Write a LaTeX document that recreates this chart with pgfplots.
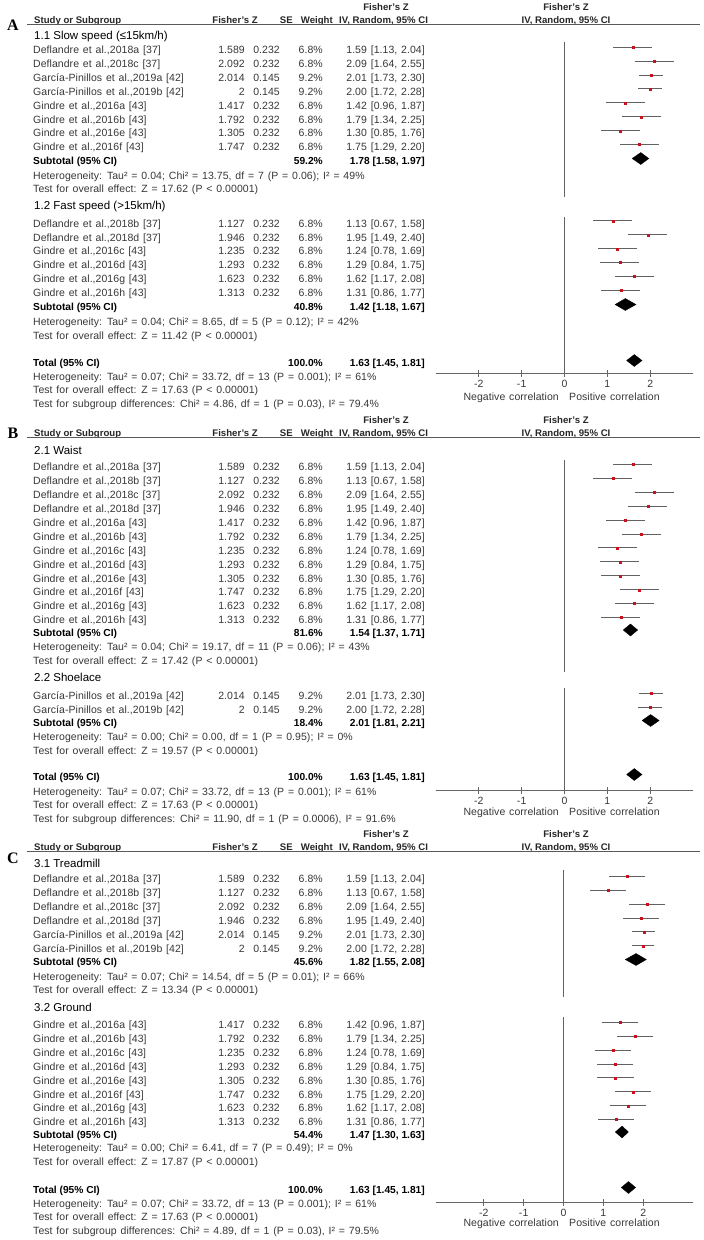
\documentclass[border=0pt]{standalone}
\usepackage{pgfplots}
\pgfplotsset{compat=1.18}
\usepackage{pgfplotstable}
\usepackage{fontspec}
\setmainfont{Liberation Sans}
\newfontfamily\rmw{Liberation Sans}[WordSpace=1.3, LetterSpace=0.5]
\newfontfamily\serifbf{Liberation Serif}

\definecolor{txt}{gray}{0.22}
\definecolor{cil}{gray}{0.38}
\definecolor{zl}{gray}{0.38}
\definecolor{dotred}{RGB}{200,16,30}

\tikzset{
 T/.style={font=\rmw\fontsize{10.5}{12}\selectfont, text=txt, inner sep=0pt, yshift=-3.8pt},
 B/.style={font=\fontsize{10.2}{12}\selectfont\bfseries, text=black, inner sep=0pt, yshift=-3.7pt},
 H/.style={font=\fontsize{9.6}{11}\selectfont\bfseries, text=black!85, inner sep=0pt, yshift=-3.5pt},
 G/.style={font=\fontsize{11.5}{13}\selectfont, text=black, inner sep=0pt, yshift=-4.1pt},
}

\newcommand\srow[6]{%
 \node[T,anchor=base west] at (33pt,-#1pt) {#2};
 \node[T,anchor=base east] at (245pt,-#1pt) {#3};
 \node[T,anchor=base east] at (280pt,-#1pt) {#4};
 \node[T,anchor=base east] at (323pt,-#1pt) {#5\%};
 \node[T,anchor=base east] at (425pt,-#1pt) {#6};}
\newcommand\subrow[4]{%
 \node[B,anchor=base west] at (33pt,-#1pt) {#2};
 \node[B,anchor=base east] at (323pt,-#1pt) {#3\%};
 \node[B,anchor=base east] at (425pt,-#1pt) {#4};}
\newcommand\note[2]{\node[T,anchor=base west] at (33pt,-#1pt) {#2};}
\newcommand\grp[2]{\node[G,anchor=base west] at (34pt,-#1pt) {#2};}
\newcommand\panelheader[3]{%
 \node[font=\fontsize{16}{16}\selectfont\serifbf\bfseries, inner sep=0pt] at (13pt,-#3pt) {#2};
 \node[H,anchor=base west] at (34pt,-#1pt) {Study or Subgroup};
 \node[H,anchor=base east] at (258pt,-#1pt) {Fisher's Z};
 \node[H,anchor=base east] at (293pt,-#1pt) {SE};
 \node[H,anchor=base east] at (333pt,-#1pt) {Weight};
 \node[H,anchor=base west] at (339pt,-#1pt) {IV, Random, 95\% CI};
 \node[H,anchor=base] at (386pt,{-(#1-13)*1pt}) {Fisher's Z};
 \node[H,anchor=base] at (566pt,{-(#1-13)*1pt}) {Fisher's Z};
 \node[H,anchor=base] at (566pt,-#1pt) {IV, Random, 95\% CI};
 \draw[black!65, line width=0.9pt] (27pt,{-(#1+4.5)*1pt}) -- (700pt,{-(#1+4.5)*1pt});}
\newcommand\corr[1]{%
 \node[T,anchor=base east] at (559pt,-#1pt) {Negative correlation};
 \node[T,anchor=base west] at (569pt,-#1pt) {Positive correlation};}

\pgfplotsset{forest/.style={
  scale only axis, width=257pt, clip=false, anchor=south west,
  axis x line=bottom, axis y line=none,
  axis line style={-, black!60, line width=0.9pt},
  xtick={-2,-1,0,1,2}, xticklabels={-2,-1,0,1,2},
  major tick length=7pt, tick align=center,
  tick style={black!60, line width=0.9pt},
  xticklabel style={font=\rmw\fontsize{10.5}{12}\selectfont, text=txt},
 },
 ci/.style={only marks, mark=square*, mark size=1.0pt, color=dotred,
  mark options={line width=0.1pt},
  error bars/.cd, x dir=both, x explicit, error mark=none,
  error bar style={cil, line width=1pt}},
 dia/.style={fill=black, draw=black, line width=0.3pt, mark=none},
 zero/.style={zl, line width=0.9pt, mark=none}
}

% y (plot position, px from top, negative), estimate, lower, upper
\pgfplotstableread{
y est lo hi
-47.2 1.589 1.13 2.04
-61.1 2.092 1.64 2.55
-75.0 2.014 1.73 2.30
-88.9 2.000 1.72 2.28
-102.8 1.417 0.96 1.87
-116.7 1.792 1.34 2.25
-130.6 1.305 0.85 1.76
-144.5 1.747 1.29 2.20
-220.8 1.127 0.67 1.58
-234.7 1.946 1.49 2.40
-248.6 1.235 0.78 1.69
-262.5 1.293 0.84 1.75
-276.4 1.623 1.17 2.08
-290.3 1.313 0.86 1.77
}\studiesA

\pgfplotstableread{
y est lo hi
-464.5 1.589 1.13 2.04
-478.4 1.127 0.67 1.58
-492.3 2.092 1.64 2.55
-506.2 1.946 1.49 2.40
-520.1 1.417 0.96 1.87
-534.0 1.792 1.34 2.25
-547.9 1.235 0.78 1.69
-561.8 1.293 0.84 1.75
-575.7 1.305 0.85 1.76
-589.6 1.747 1.29 2.20
-603.5 1.623 1.17 2.08
-617.4 1.313 0.86 1.77
-693.5 2.014 1.73 2.30
-707.0 2.000 1.72 2.28
}\studiesB

\pgfplotstableread{
y est lo hi
-876.5 1.589 1.13 2.04
-890.4 1.127 0.67 1.58
-904.2 2.092 1.64 2.55
-918.1 1.946 1.49 2.40
-931.9 2.014 1.73 2.30
-945.8 2.000 1.72 2.28
-1022.5 1.417 0.96 1.87
-1036.4 1.792 1.34 2.25
-1050.2 1.235 0.78 1.69
-1064.1 1.293 0.84 1.75
-1077.9 1.305 0.85 1.76
-1091.8 1.747 1.29 2.20
-1105.6 1.623 1.17 2.08
-1119.5 1.313 0.86 1.77
}\studiesC

\begin{document}
\begin{tikzpicture}
\useasboundingbox[fill=white] (0pt,0pt) rectangle (704pt,-1240pt);

% ================= PANEL A =================
\panelheader{20}{A}{25}
\grp{35}{1.1 Slow speed (≤15km/h)}
\srow{49.7}{Deflandre et al.,2018a [37]}{1.589}{0.232}{6.8}{1.59 [1.13, 2.04]}
\srow{63.6}{Deflandre et al.,2018c [37]}{2.092}{0.232}{6.8}{2.09 [1.64, 2.55]}
\srow{77.5}{García-Pinillos et al.,2019a [42]}{2.014}{0.145}{9.2}{2.01 [1.73, 2.30]}
\srow{91.4}{García-Pinillos et al.,2019b [42]}{2}{0.145}{9.2}{2.00 [1.72, 2.28]}
\srow{105.3}{Gindre et al.,2016a [43]}{1.417}{0.232}{6.8}{1.42 [0.96, 1.87]}
\srow{119.2}{Gindre et al.,2016b [43]}{1.792}{0.232}{6.8}{1.79 [1.34, 2.25]}
\srow{133.1}{Gindre et al.,2016e [43]}{1.305}{0.232}{6.8}{1.30 [0.85, 1.76]}
\srow{147}{Gindre et al.,2016f [43]}{1.747}{0.232}{6.8}{1.75 [1.29, 2.20]}
\subrow{161}{Subtotal (95\% CI)}{59.2}{1.78 [1.58, 1.97]}
\note{175.5}{Heterogeneity: Tau² = 0.04; Chi² = 13.75, df = 7 (P = 0.06); I² = 49\%}
\note{189}{Test for overall effect: Z = 17.62 (P < 0.00001)}
\grp{205}{1.2 Fast speed (>15km/h)}
\srow{223.3}{Deflandre et al.,2018b [37]}{1.127}{0.232}{6.8}{1.13 [0.67, 1.58]}
\srow{237.2}{Deflandre et al.,2018d [37]}{1.946}{0.232}{6.8}{1.95 [1.49, 2.40]}
\srow{251.1}{Gindre et al.,2016c [43]}{1.235}{0.232}{6.8}{1.24 [0.78, 1.69]}
\srow{265}{Gindre et al.,2016d [43]}{1.293}{0.232}{6.8}{1.29 [0.84, 1.75]}
\srow{278.9}{Gindre et al.,2016g [43]}{1.623}{0.232}{6.8}{1.62 [1.17, 2.08]}
\srow{292.8}{Gindre et al.,2016h [43]}{1.313}{0.232}{6.8}{1.31 [0.86, 1.77]}
\subrow{307}{Subtotal (95\% CI)}{40.8}{1.42 [1.18, 1.67]}
\note{321.5}{Heterogeneity: Tau² = 0.04; Chi² = 8.65, df = 5 (P = 0.12); I² = 42\%}
\note{335.5}{Test for overall effect: Z = 11.42 (P < 0.00001)}
\subrow{363}{Total (95\% CI)}{100.0}{1.63 [1.45, 1.81]}
\note{376.5}{Heterogeneity: Tau² = 0.07; Chi² = 33.72, df = 13 (P = 0.001); I² = 61\%}
\note{390}{Test for overall effect: Z = 17.63 (P < 0.00001)}
\note{403.5}{Test for subgroup differences: Chi² = 4.86, df = 1 (P = 0.03), I² = 79.4\%}
\corr{397}

\begin{axis}[forest, at={(436pt,-373pt)}, xmin=-3, xmax=3, ymin=-373, ymax=-30, height=343pt]
\addplot[zero] coordinates {(0,-42) (0,-197)};
\addplot[zero] coordinates {(0,-217) (0,-373)};
\addplot[ci] table[x=est, y=y, x error minus expr=\thisrow{est}-\thisrow{lo}, x error plus expr=\thisrow{hi}-\thisrow{est}] {\studiesA};
\addplot[dia] coordinates {(1.58,-158.5) (1.78,-152.5) (1.97,-158.5) (1.78,-164.5) (1.58,-158.5)};
\addplot[dia] coordinates {(1.18,-304.5) (1.42,-298.5) (1.67,-304.5) (1.42,-310.5) (1.18,-304.5)};
\addplot[dia] coordinates {(1.45,-360.5) (1.63,-354.5) (1.81,-360.5) (1.63,-366.5) (1.45,-360.5)};
\end{axis}

% ================= PANEL B =================
\panelheader{433}{B}{433}
\grp{450}{2.1 Waist}
\srow{467}{Deflandre et al.,2018a [37]}{1.589}{0.232}{6.8}{1.59 [1.13, 2.04]}
\srow{480.9}{Deflandre et al.,2018b [37]}{1.127}{0.232}{6.8}{1.13 [0.67, 1.58]}
\srow{494.8}{Deflandre et al.,2018c [37]}{2.092}{0.232}{6.8}{2.09 [1.64, 2.55]}
\srow{508.7}{Deflandre et al.,2018d [37]}{1.946}{0.232}{6.8}{1.95 [1.49, 2.40]}
\srow{522.6}{Gindre et al.,2016a [43]}{1.417}{0.232}{6.8}{1.42 [0.96, 1.87]}
\srow{536.5}{Gindre et al.,2016b [43]}{1.792}{0.232}{6.8}{1.79 [1.34, 2.25]}
\srow{550.4}{Gindre et al.,2016c [43]}{1.235}{0.232}{6.8}{1.24 [0.78, 1.69]}
\srow{564.3}{Gindre et al.,2016d [43]}{1.293}{0.232}{6.8}{1.29 [0.84, 1.75]}
\srow{578.2}{Gindre et al.,2016e [43]}{1.305}{0.232}{6.8}{1.30 [0.85, 1.76]}
\srow{592.1}{Gindre et al.,2016f [43]}{1.747}{0.232}{6.8}{1.75 [1.29, 2.20]}
\srow{606}{Gindre et al.,2016g [43]}{1.623}{0.232}{6.8}{1.62 [1.17, 2.08]}
\srow{619.9}{Gindre et al.,2016h [43]}{1.313}{0.232}{6.8}{1.31 [0.86, 1.77]}
\subrow{632.5}{Subtotal (95\% CI)}{81.6}{1.54 [1.37, 1.71]}
\note{647}{Heterogeneity: Tau² = 0.04; Chi² = 19.17, df = 11 (P = 0.06); I² = 43\%}
\note{661}{Test for overall effect: Z = 17.42 (P < 0.00001)}
\grp{677}{2.2 Shoelace}
\srow{696}{García-Pinillos et al.,2019a [42]}{2.014}{0.145}{9.2}{2.01 [1.73, 2.30]}
\srow{709.5}{García-Pinillos et al.,2019b [42]}{2}{0.145}{9.2}{2.00 [1.72, 2.28]}
\subrow{723}{Subtotal (95\% CI)}{18.4}{2.01 [1.81, 2.21]}
\note{737}{Heterogeneity: Tau² = 0.00; Chi² = 0.00, df = 1 (P = 0.95); I² = 0\%}
\note{751}{Test for overall effect: Z = 19.57 (P < 0.00001)}
\subrow{777}{Total (95\% CI)}{100.0}{1.63 [1.45, 1.81]}
\note{792}{Heterogeneity: Tau² = 0.07; Chi² = 33.72, df = 13 (P = 0.001); I² = 61\%}
\note{805}{Test for overall effect: Z = 17.63 (P < 0.00001)}
\note{819}{Test for subgroup differences: Chi² = 11.90, df = 1 (P = 0.0006), I² = 91.6\%}
\corr{812}

\begin{axis}[forest, at={(436pt,-790pt)}, xmin=-3, xmax=3, ymin=-790, ymax=-450, height=340pt]
\addplot[zero] coordinates {(0,-460) (0,-672)};
\addplot[zero] coordinates {(0,-688) (0,-790)};
\addplot[ci] table[x=est, y=y, x error minus expr=\thisrow{est}-\thisrow{lo}, x error plus expr=\thisrow{hi}-\thisrow{est}] {\studiesB};
\addplot[dia] coordinates {(1.37,-630) (1.54,-624) (1.71,-630) (1.54,-636) (1.37,-630)};
\addplot[dia] coordinates {(1.81,-720.5) (2.01,-714.5) (2.21,-720.5) (2.01,-726.5) (1.81,-720.5)};
\addplot[dia] coordinates {(1.45,-774.5) (1.63,-768.5) (1.81,-774.5) (1.63,-780.5) (1.45,-774.5)};
\end{axis}

% ================= PANEL C =================
\panelheader{847}{C}{858}
\grp{863}{3.1 Treadmill}
\srow{879}{Deflandre et al.,2018a [37]}{1.589}{0.232}{6.8}{1.59 [1.13, 2.04]}
\srow{892.9}{Deflandre et al.,2018b [37]}{1.127}{0.232}{6.8}{1.13 [0.67, 1.58]}
\srow{906.7}{Deflandre et al.,2018c [37]}{2.092}{0.232}{6.8}{2.09 [1.64, 2.55]}
\srow{920.6}{Deflandre et al.,2018d [37]}{1.946}{0.232}{6.8}{1.95 [1.49, 2.40]}
\srow{934.4}{García-Pinillos et al.,2019a [42]}{2.014}{0.145}{9.2}{2.01 [1.73, 2.30]}
\srow{948.3}{García-Pinillos et al.,2019b [42]}{2}{0.145}{9.2}{2.00 [1.72, 2.28]}
\subrow{962}{Subtotal (95\% CI)}{45.6}{1.82 [1.55, 2.08]}
\note{977}{Heterogeneity: Tau² = 0.07; Chi² = 14.54, df = 5 (P = 0.01); I² = 66\%}
\note{990}{Test for overall effect: Z = 13.34 (P < 0.00001)}
\grp{1007}{3.2 Ground}
\srow{1025}{Gindre et al.,2016a [43]}{1.417}{0.232}{6.8}{1.42 [0.96, 1.87]}
\srow{1038.9}{Gindre et al.,2016b [43]}{1.792}{0.232}{6.8}{1.79 [1.34, 2.25]}
\srow{1052.7}{Gindre et al.,2016c [43]}{1.235}{0.232}{6.8}{1.24 [0.78, 1.69]}
\srow{1066.6}{Gindre et al.,2016d [43]}{1.293}{0.232}{6.8}{1.29 [0.84, 1.75]}
\srow{1080.4}{Gindre et al.,2016e [43]}{1.305}{0.232}{6.8}{1.30 [0.85, 1.76]}
\srow{1094.3}{Gindre et al.,2016f [43]}{1.747}{0.232}{6.8}{1.75 [1.29, 2.20]}
\srow{1108.1}{Gindre et al.,2016g [43]}{1.623}{0.232}{6.8}{1.62 [1.17, 2.08]}
\srow{1122}{Gindre et al.,2016h [43]}{1.313}{0.232}{6.8}{1.31 [0.86, 1.77]}
\subrow{1134.5}{Subtotal (95\% CI)}{54.4}{1.47 [1.30, 1.63]}
\note{1148}{Heterogeneity: Tau² = 0.00; Chi² = 6.41, df = 7 (P = 0.49); I² = 0\%}
\note{1162}{Test for overall effect: Z = 17.87 (P < 0.00001)}
\subrow{1190}{Total (95\% CI)}{100.0}{1.63 [1.45, 1.81]}
\note{1204}{Heterogeneity: Tau² = 0.07; Chi² = 33.72, df = 13 (P = 0.001); I² = 61\%}
\note{1217}{Test for overall effect: Z = 17.63 (P < 0.00001)}
\note{1231}{Test for subgroup differences: Chi² = 4.89, df = 1 (P = 0.03), I² = 79.5\%}
\corr{1223}

\begin{axis}[forest, at={(436pt,-1202pt)}, xmin=-3.2, xmax=3.25, ymin=-1202, ymax=-860, height=342pt]
\addplot[zero] coordinates {(0,-870) (0,-997)};
\addplot[zero] coordinates {(0,-1017) (0,-1202)};
\addplot[ci] table[x=est, y=y, x error minus expr=\thisrow{est}-\thisrow{lo}, x error plus expr=\thisrow{hi}-\thisrow{est}] {\studiesC};
\addplot[dia] coordinates {(1.55,-959.5) (1.82,-953.5) (2.08,-959.5) (1.82,-965.5) (1.55,-959.5)};
\addplot[dia] coordinates {(1.30,-1132) (1.47,-1126) (1.63,-1132) (1.47,-1138) (1.30,-1132)};
\addplot[dia] coordinates {(1.45,-1187.5) (1.63,-1181.5) (1.81,-1187.5) (1.63,-1193.5) (1.45,-1187.5)};
\end{axis}
\end{tikzpicture}
\end{document}
